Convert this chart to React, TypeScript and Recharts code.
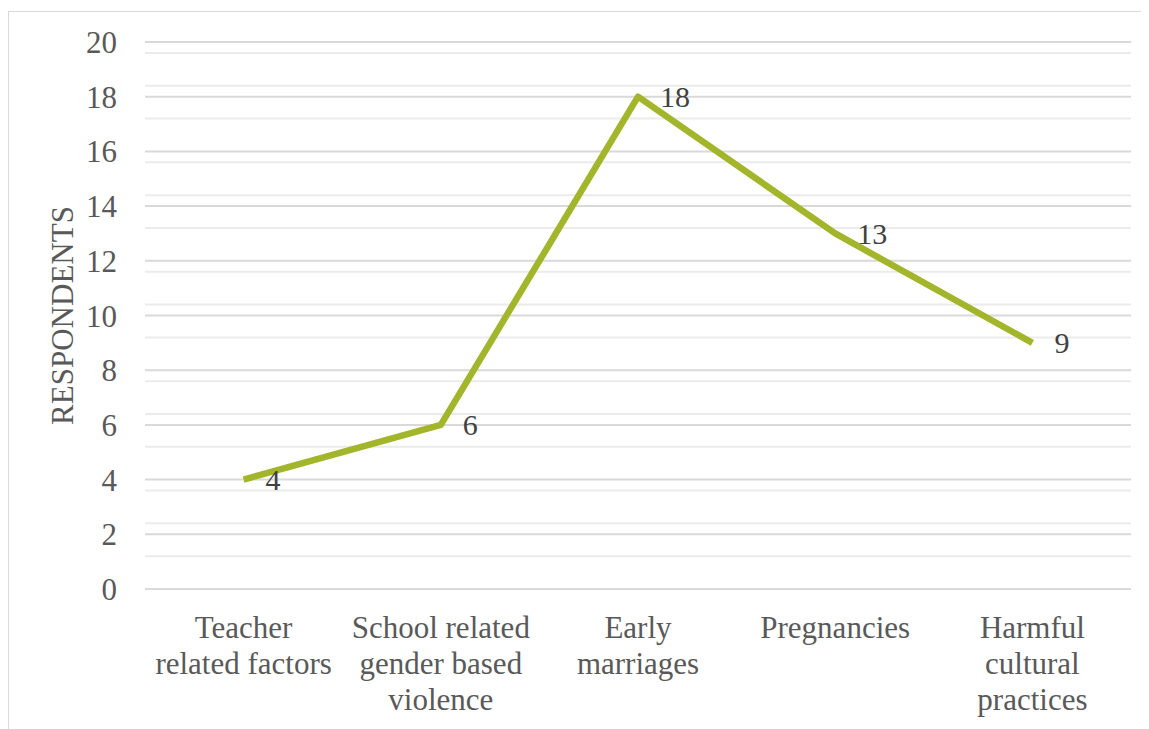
import { CartesianGrid, LabelList, Line, LineChart, XAxis, YAxis } from "recharts";

const categories = [
  "Teacher related factors",
  "School related gender based violence",
  "Early marriages",
  "Pregnancies",
  "Harmful cultural practices",
];
// how each category name breaks onto lines under the axis
const categoryLines = [
  ["Teacher", "related factors"],
  ["School related", "gender based", "violence"],
  ["Early", "marriages"],
  ["Pregnancies"],
  ["Harmful", "cultural", "practices"],
];
const respondents = [4, 6, 18, 13, 9];
const yTicks = [0, 2, 4, 6, 8, 10, 12, 14, 16, 18, 20];
const minorTicks = Array.from({ length: 51 }, (_, i) => +(i * 0.4).toFixed(1)).filter(
  (v) => Math.abs(v / 2 - Math.round(v / 2)) > 1e-6
);

const data = categories.map((name, i) => ({ name, value: respondents[i] }));

const FONT = '"Liberation Serif", "Times New Roman", serif';
const TEXT = "#595959";
const LINE = "#A3B62B";

function CategoryTick({ x, y, payload, index }: any) {
  const lines = categoryLines[index] ?? [String(payload.value)];
  return (
    <text x={x} y={y} textAnchor="middle" fill={TEXT} fontFamily={FONT} fontSize={31}>
      {lines.map((l, i) => (
        <tspan key={i} x={x} dy={i === 0 ? 41 : 36}>
          {l}
        </tspan>
      ))}
    </text>
  );
}

function ValueLabel({ x, y, value }: any) {
  return (
    <text
      x={x + 22}
      y={y}
      dominantBaseline="central"
      fill="#404040"
      fontFamily={FONT}
      fontSize={30}
    >
      {value}
    </text>
  );
}

export default function App() {
  return (
    <div
      style={{
        marginTop: 3,
        width: 1141,
        height: 718,
        borderTop: "1px solid #d9d9d9",
        borderLeft: "1px solid #d9d9d9",
        boxSizing: "border-box",
        background: "#fff",
      }}
    >
      <LineChart
        width={1140}
        height={717}
        data={data}
        margin={{ top: 30, right: 18, left: 0, bottom: 0 }}
      >
        <CartesianGrid
          vertical={false}
          horizontalValues={minorTicks}
          stroke="#ebebeb"
          strokeWidth={2}
        />
        <CartesianGrid vertical={false} horizontalValues={yTicks} stroke="#d9d9d9" strokeWidth={2} />
        <XAxis
          dataKey="name"
          axisLine={false}
          tickLine={false}
          height={140}
          interval={0}
          padding={{ left: 98.6, right: 98.6 }}
          tick={<CategoryTick />}
        />
        <YAxis
          domain={[0, 20]}
          ticks={yTicks}
          width={136}
          axisLine={false}
          tickLine={false}
          tickMargin={22}
          tick={{ fill: TEXT, fontFamily: FONT, fontSize: 31 }}
          label={({ viewBox }: any) => (
            <text
              x={53}
              y={viewBox.y + viewBox.height / 2}
              transform={`rotate(-90, 53, ${viewBox.y + viewBox.height / 2})`}
              textAnchor="middle"
              dominantBaseline="central"
              fill={TEXT}
              fontFamily={FONT}
              fontSize={31}
            >
              RESPONDENTS
            </text>
          )}
        />
        <Line
          type="linear"
          dataKey="value"
          stroke={LINE}
          strokeWidth={6.5}
          dot={false}
          activeDot={false}
          strokeLinejoin="round"
          isAnimationActive={false}
        >
          <LabelList dataKey="value" content={<ValueLabel />} />
        </Line>
      </LineChart>
    </div>
  );
}
